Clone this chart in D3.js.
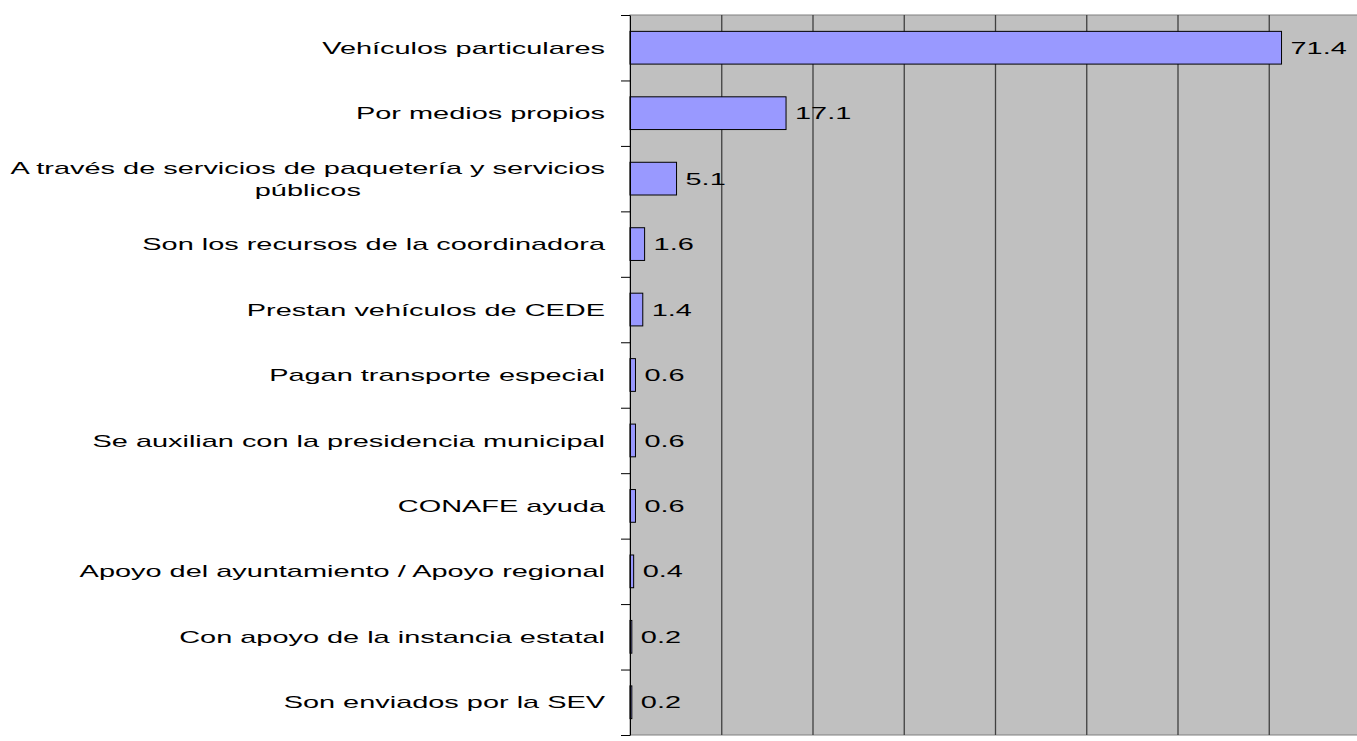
<!DOCTYPE html>
<html>
<head>
<meta charset="utf-8">
<script src="https://cdn.jsdelivr.net/npm/d3@7"></script>
<style>
body { margin: 0; background: #fff; }
text { font-family: "Liberation Sans", Arial, sans-serif; fill: #000; }
</style>
</head>
<body>
<svg width="1357" height="741"></svg>
<script>
var categories = ["Vehículos particulares",
		  "Por medios propios",
		  "A través de servicios de paquetería y servicios|públicos",
		  "Son los recursos de la coordinadora",
		  "Prestan vehículos de CEDE",
		  "Pagan transporte especial",
		  "Se auxilian con la presidencia municipal",
		  "CONAFE ayuda",
		  "Apoyo del ayuntamiento / Apoyo regional",
		  "Con apoyo de la instancia estatal",
		  "Son enviados por la SEV"];
var values = [71.4, 17.1, 5.1, 1.6, 1.4, 0.6, 0.6, 0.6, 0.4, 0.2, 0.2];
var gridTicks = [0, 10, 20, 30, 40, 50, 60, 70, 80];

// the text in the picture is drawn wide, so stretch it sideways
const stretch = 1.7
function widen(sel) {
    sel.each(function() {
	const w = this.getComputedTextLength()
	d3.select(this).attr("textLength", w * stretch).attr("lengthAdjust", "spacingAndGlyphs")
    })
}

function createChart() {
    const left = 630, top = 15, plotW = 730, plotH = 720
    const svg = d3.select("svg")
    const xScale = d3.scaleLinear().domain([0, 80]).range([left, left + plotW])
    const yScale = d3.scaleBand().domain(d3.range(categories.length))
	  .range([top, top + plotH]).paddingInner(0.5).paddingOuter(0.25)

    // plot background
    svg.append("rect")
	.attr("x", left).attr("y", top)
	.attr("width", plotW).attr("height", plotH)
	.style("fill", "#c0c0c0")
	.style("stroke", "#808080")

    // vertical gridlines
    const xAxis = d3.axisBottom()
	  .scale(xScale)
	  .tickValues(gridTicks.slice(1))
	  .tickSize(-plotH)
	  .tickFormat("")
    svg.append("g")
	.attr("id", "xAxisG")
	.attr("transform", `translate(0,${top + plotH})`)
	.call(xAxis)
	.call(g => g.select(".domain").remove())
	.call(g => g.selectAll("line").style("stroke", "#404040").style("stroke-width", 1.3))

    // bars
    svg.selectAll("rect.bar")
	.data(values)
	.enter()
	.append("rect")
	.attr("class", "bar")
	.attr("x", xScale(0))
	.attr("y", (d, i) => yScale(i))
	.attr("width", d => xScale(d) - xScale(0))
	.attr("height", yScale.bandwidth())
	.style("fill", "#9999ff")
	.style("stroke", "#000")
	.style("stroke-width", 1)

    // value labels
    svg.selectAll("text.val")
	.data(values)
	.enter()
	.append("text")
	.attr("class", "val")
	.attr("x", d => xScale(d) + 9)
	.attr("y", (d, i) => yScale(i) + yScale.bandwidth() / 2)
	.attr("dy", "0.36em")
	.style("font-size", "17px")
	.text(d => d.toFixed(1))
	.call(widen)

    // left axis with ticks at band boundaries
    const yLine = d3.scaleLinear().domain([0, categories.length]).range([top, top + plotH])
    const yAxis = d3.axisLeft()
	  .scale(yLine)
	  .tickValues(d3.range(categories.length + 1))
	  .tickSize(9)
	  .tickSizeOuter(0)
	  .tickFormat("")
    svg.append("g")
	.attr("id", "yAxisG")
	.attr("transform", `translate(${left},0)`)
	.call(yAxis)
	.call(g => g.selectAll("line, path").style("stroke", "#000"))

    // category labels
    svg.selectAll("g.cat")
	.data(categories)
	.enter()
	.append("g")
	.attr("class", "cat")
	.each(function(d, i) {
	    const lines = d.split("|")
	    const cy = yScale(i) + yScale.bandwidth() / 2
	    const g = d3.select(this)
	    if (lines.length == 1) {
		g.append("text")
		    .attr("x", 605).attr("y", cy).attr("dy", "0.36em")
		    .attr("text-anchor", "end")
		    .style("font-size", "17px")
		    .text(d)
		    .call(widen)
	    } else {
		const t1 = g.append("text")
		      .attr("text-anchor", "end")
		      .attr("x", 605).attr("y", cy - 11).attr("dy", "0.36em")
		      .style("font-size", "17px")
		      .text(lines[0])
		const w = t1.node().getComputedTextLength() * stretch
		t1.call(widen)
		g.append("text")
		    .attr("text-anchor", "middle")
		    .attr("x", 605 - w / 2).attr("y", cy + 11).attr("dy", "0.36em")
		    .style("font-size", "17px")
		    .text(lines[1])
		    .call(widen)
	    }
	})
}
createChart()
</script>
</body>
</html>
